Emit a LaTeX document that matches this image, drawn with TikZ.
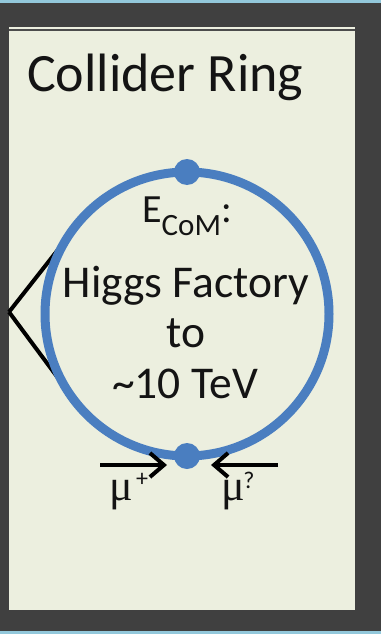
\documentclass[tikz,border=0pt]{standalone}
\usepackage{fontspec}
\setmainfont{Carlito}
\newfontfamily\greekfont{Liberation Serif}
\usetikzlibrary{arrows.meta,backgrounds}
\definecolor{framegray}{HTML}{404040}
\definecolor{panelcream}{HTML}{ECEFDF}
\definecolor{ringblue}{HTML}{4A7EC0}
\definecolor{edgeteal}{HTML}{93C8DB}
\definecolor{inkdark}{HTML}{141414}
\tikzset{
  ringstyle/.style={circle, draw=ringblue, line width=9pt, minimum size=284pt,
                    inner sep=0pt, outer sep=0pt},
  portdot/.style={circle, fill=ringblue, minimum size=26pt, inner sep=0pt},
  feedline/.style={draw=black, line width=4pt},
  beam/.style={draw=black, line width=4pt,
               -{Straight Barb[length=14pt,width=24pt,line width=4pt]}},
  bigtext/.style={text=inkdark, font=\fontsize{45.5}{45.5}\selectfont,
                  anchor=base, inner sep=0pt},
  muonlabel/.style={text=inkdark, font=\greekfont\fontsize{44}{44}\selectfont, anchor=base},
  chargelabel/.style={text=inkdark, font=\fontsize{24}{24}\selectfont, inner sep=0pt}
}
\begin{document}
\begin{tikzpicture}[x=1pt,y=-1pt]
  \useasboundingbox (0,0) rectangle (381,634);
  % slide frame and panel
  \begin{scope}[on background layer]
    \fill[framegray] (0,0) rectangle (381,634);
    \fill[edgeteal] (0,0) rectangle (381,3);
    \fill[edgeteal] (0,631) rectangle (381,634);
    \fill[panelcream] (9,27) rectangle (355,610);
    \fill[black!70] (9,29) rectangle (355,31);
  \end{scope}

  % title
  \node[text=inkdark, font=\fontsize{54}{54}\selectfont, anchor=base west, inner sep=0pt]
    (title) at (27,92) {Collider Ring};

  % the ring and its two interaction points
  \node[ringstyle] (ring) at (187,314) {};
  \coordinate (apex) at (9,312);
  \begin{scope}[on background layer]
    \draw[feedline] (apex) -- (ring.148);
    \draw[feedline] (apex) -- (ring.213);
  \end{scope}
  \node[portdot] (topdot) at (ring.north) {};
  \node[portdot] (botdot) at (ring.south) {};

  % energy labels inside the ring
  \node[text=inkdark, anchor=base, inner sep=0pt] (ecom) at (187,222)
    {\fontsize{40}{40}\selectfont E\raisebox{-13pt}{\fontsize{31}{31}\selectfont CoM}:};
  \node[bigtext] (higgs) at (186,297) {Higgs Factory};
  \node[bigtext] (to) at (186,347) {to};
  \node[bigtext] (tev) at (185,398) {\textasciitilde10 TeV};

  % incoming beams
  \coordinate (muLtail) at (100,465);
  \coordinate (muLhead) at (167,465);
  \coordinate (muRtail) at (278,465);
  \coordinate (muRhead) at (211,465);
  \draw[beam] (muLtail) -- (muLhead);
  \draw[beam] (muRtail) -- (muRhead);
  \node[muonlabel] (muplus) at (121,500) {μ};
  \node[chargelabel] (plus) at (142,480) {+};
  \node[muonlabel] (muminus) at (233,500) {μ};
  \node[chargelabel] (qmark) at (249,480) {?};
\end{tikzpicture}
\end{document}
